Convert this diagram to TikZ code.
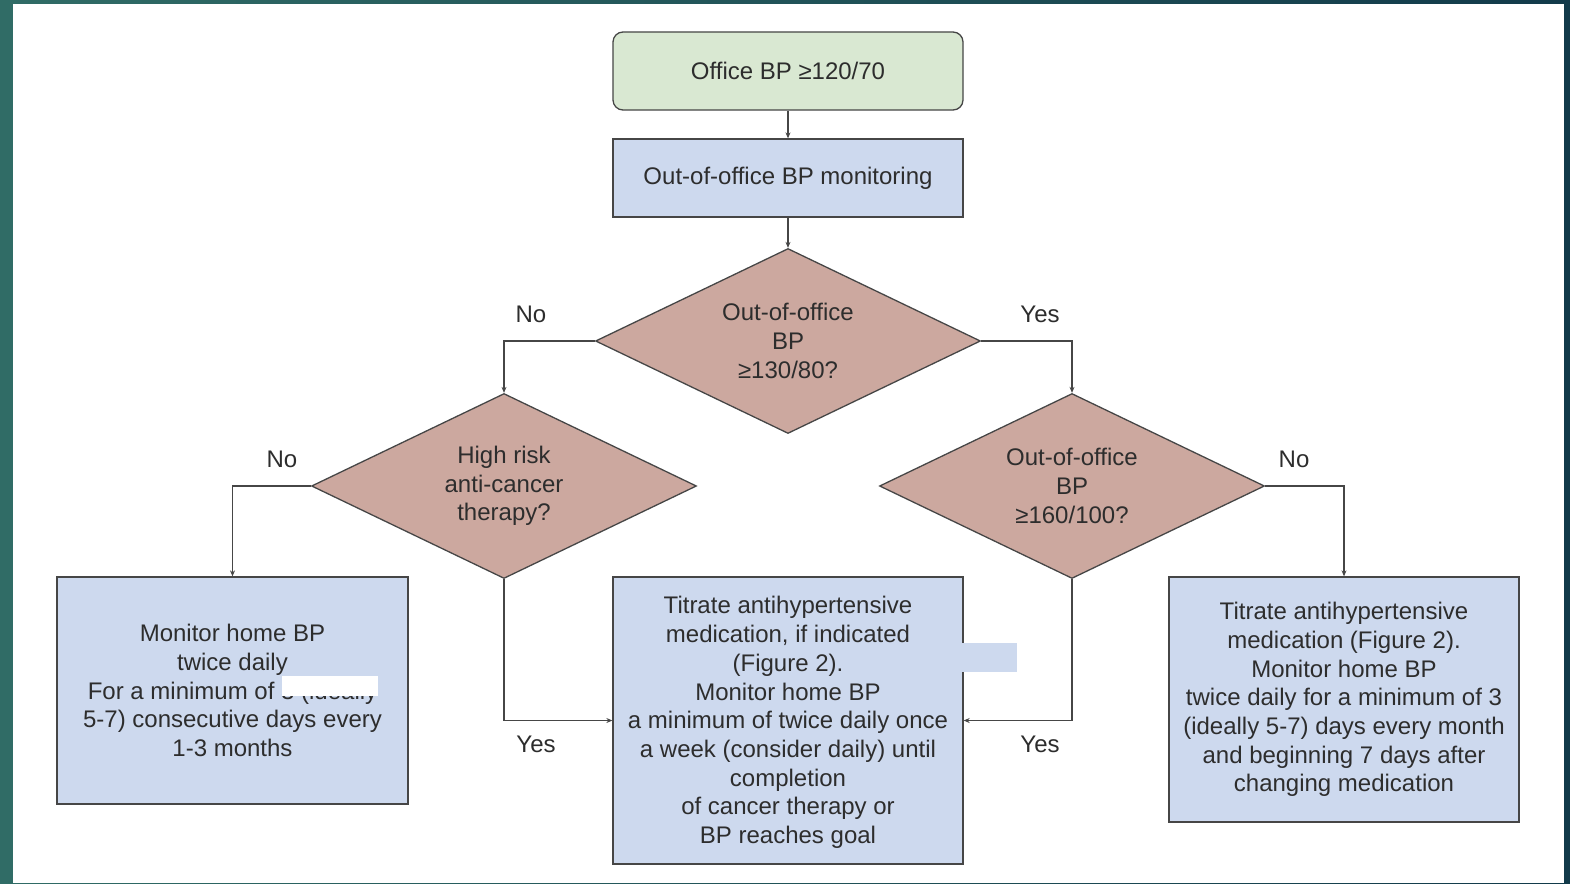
\documentclass[tikz,border=0pt]{standalone}
\usepackage{fontspec}
\setmainfont{Liberation Sans}
\usepackage{xcolor}
\usepackage{tikz}
\usetikzlibrary{
    positioning,
    arrows.meta,
    shapes.geometric
}
\definecolor{sideTeal}{RGB}{48, 108, 102}
\definecolor{sideNavy}{RGB}{18, 58, 74}
\definecolor{startGreen}{RGB}{217, 232, 210}
\definecolor{stepBlue}{RGB}{205, 217, 238}
\definecolor{askRose}{RGB}{204, 168, 159}
\definecolor{lineGray}{RGB}{70, 70, 70}
\definecolor{textGray}{RGB}{45, 45, 45}

\tikzset{
    flowtext/.style={text=textGray, font=\fontsize{24}{28.7}\selectfont, align=center},
    startbox/.style={flowtext, draw=lineGray, line width=1.3pt, fill=startGreen,
        rounded corners=10pt, minimum width=350pt, minimum height=78pt},
    stepbox/.style={flowtext, draw=lineGray, line width=1.3pt, fill=stepBlue,
        minimum width=350pt, inner sep=0pt},
    askbox/.style={flowtext, diamond, draw=lineGray, line width=1.3pt, fill=askRose,
        aspect=2.08, minimum width=385pt, minimum height=185pt, inner sep=0pt},
    lbl/.style={flowtext},
    link/.style={draw=lineGray, line width=1.3pt, -{Stealth[length=6pt,width=5pt]}}
}

\begin{document}
\begin{tikzpicture}[x=1pt, y=-1pt]
            % frame of the slide
            \fill[left color=sideTeal, right color=sideNavy] (0,0) rectangle (1570,883);
            \fill[white] (13,4) rectangle (1564,883);
            \useasboundingbox (0,0) rectangle (1570,883);

            % boxes
            \node[startbox] (office) at (788,71) {Office BP ≥120/70};
            \node[stepbox, minimum height=78pt] (monitor) at (788,178) {Out-of-office BP monitoring};

            % questions
            \node[askbox] (ask130) at (788,341) {Out-of-office\\BP\\≥130/80?};
            \node[askbox] (askrisk) at (504,486) {High risk\\anti-cancer\\therapy?};
            \node[askbox] (ask160) at (1072,486) {Out-of-office\\BP\\≥160/100?};

            % outcomes
            \node[stepbox, minimum width=351pt, minimum height=227pt] (home) at (232.5,690.5)
                {Monitor home BP\\twice daily\\For a minimum of 3 (ideally\\5-7) consecutive days every\\1-3 months};
            \node[stepbox, minimum height=287pt] (titrate) at (788,720.5) {};
            \node[flowtext] (titratetext) at (788,722.5)
                {Titrate antihypertensive\\medication, if indicated\\(Figure 2).\\Monitor home BP\\a minimum of twice daily once\\a week (consider daily) until\\completion\\of cancer therapy or\\BP reaches goal};
            \node[stepbox, minimum height=245pt] (titratemonth) at (1344,699.5)
                {Titrate antihypertensive\\medication (Figure 2).\\Monitor home BP\\twice daily for a minimum of 3\\(ideally 5-7) days every month\\and beginning 7 days after\\changing medication};

            % patches as in the source picture
            \fill[white] (282,676) rectangle (378,696);
            \fill[stepBlue] (962,643) rectangle (1017,672);

            % connectors
            \draw[link] (office) -- (monitor);
            \draw[link] (monitor) -- (ask130.north);
            \draw[link] (ask130.west) -| (askrisk.north);
            \draw[link] (ask130.east) -| (ask160.north);
            \draw[link] (askrisk.west) -| (home.north);
            \draw[link] (ask160.east) -| (titratemonth.north);
            \draw[link] (askrisk.south) |- (titrate.west);
            \draw[link] (ask160.south) |- (titrate.east);

            % answers
            \node[lbl] (no130) at (531,314) {No};
            \node[lbl] (yes130) at (1040,314) {Yes};
            \node[lbl] (norisk) at (282,459) {No};
            \node[lbl] (no160) at (1294,459) {No};
            \node[lbl] (yesrisk) at (536,744) {Yes};
            \node[lbl] (yes160) at (1040,744) {Yes};
        \end{tikzpicture}
\end{document}
